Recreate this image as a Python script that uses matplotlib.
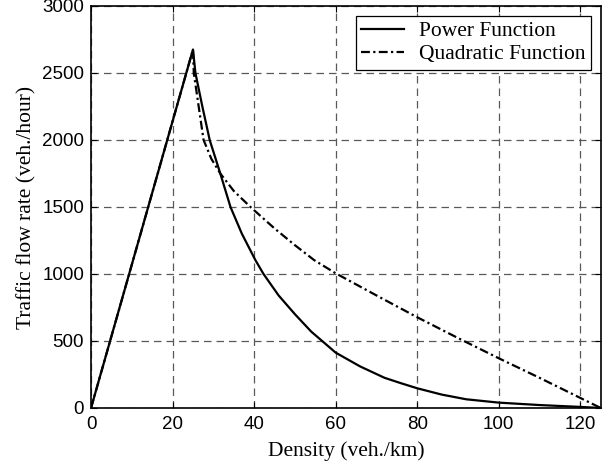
import numpy as np
import matplotlib
matplotlib.use('Agg')
import matplotlib.pyplot as plt

# power function curve (density, flow)
power_k = [0, 25, 25.6, 27.3, 29.1, 31.7, 34.2, 37, 40.3, 42.3, 46, 50, 54, 60, 66, 72, 76, 80, 86, 92, 100, 110, 120, 125]
power_q = [0, 2675, 2500, 2250, 2000, 1750, 1500, 1300, 1104, 1000, 840, 700, 570, 413, 310, 225, 185, 147, 100, 65, 40, 22, 8, 0]

# quadratic function curve
quad_k = [0, 25, 25.2, 26.4, 27.6, 29.5, 31.7, 35, 39.1, 45, 50, 54.7, 60, 70, 80, 90, 100, 110, 120, 125]
quad_q = [0, 2675, 2500, 2250, 2000, 1860, 1750, 1620, 1500, 1340, 1215, 1104, 1005, 840, 677, 522, 371, 225, 75, 0]

fig = plt.figure(figsize=(6.13, 4.65), dpi=100)
ax = fig.add_axes([0.1485, 0.1226, 0.8315, 0.8645])

ax.plot(power_k, power_q, color='black', lw=1.6, label='Power Function')
ax.plot(quad_k, quad_q, color='black', lw=1.6, linestyle=(0, (4, 1.5, 1, 1.5)), label='Quadratic Function')

ax.set_xlim(0, 125)
ax.set_ylim(0, 3000)
ax.set_xticks([0, 20, 40, 60, 80, 100, 120])
ax.set_yticks([0, 500, 1000, 1500, 2000, 2500, 3000])
ax.grid(True, color='0.35', linestyle=(0, (6, 4)), lw=0.9)
ax.tick_params(direction='in', top=True, right=True, length=4, labelsize=13.5)
ax.tick_params(axis='x', pad=6)
ax.tick_params(axis='y', pad=5)
for lab in ax.get_xticklabels() + ax.get_yticklabels():
    lab.set_fontfamily('Liberation Sans')
for s in ax.spines.values():
    s.set_linewidth(1.2)

ax.set_xlabel('Density (veh./km)', fontfamily='Liberation Serif', fontsize=15.5, labelpad=6)
ax.set_ylabel('Traffic flow rate (veh./hour)', fontfamily='Liberation Serif', fontsize=15.5, labelpad=4)

leg = ax.legend(loc='upper right', prop={'family': 'Liberation Serif', 'size': 15.5},
                fancybox=False, framealpha=1, edgecolor='black', borderaxespad=0.45,
                handlelength=2.0, handletextpad=0.7, borderpad=0.25, labelspacing=0.15)
leg.get_frame().set_linewidth(0.9)

fig.savefig('out.png', dpi=100)
